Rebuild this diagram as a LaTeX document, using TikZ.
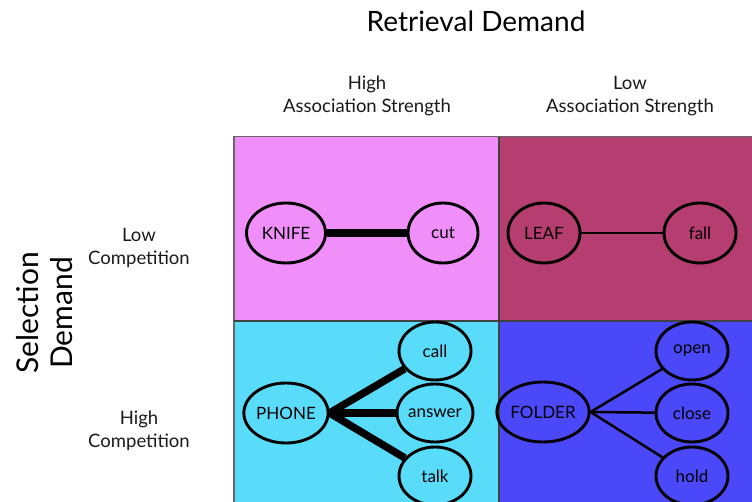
\documentclass[tikz,border=0pt]{standalone}
\usepackage{fontspec}
\setmainfont{Lato}
\usepackage{tikz}
\usetikzlibrary{shapes.geometric, positioning}
\definecolor{cellpink}{RGB}{240,142,250}
\definecolor{cellmaroon}{RGB}{181,61,111}
\definecolor{cellcyan}{RGB}{88,220,250}
\definecolor{cellblue}{RGB}{75,72,250}

\begin{document}
\begin{tikzpicture}[
	  x=1pt, y=-1pt,
	  cell_style/.style={
	  	draw=black!75,
	  	line width=2pt
	  },
	  word_style/.style={
	  	ellipse,
	  	draw,
	  	line width=2.9pt,
	  	inner sep=0pt,
	  	minimum width=72pt,
	  	minimum height=60pt,
	  	font=\fontsize{17}{20}\selectfont
	  },
	  head_style/.style={
	  	align=center,
	  	text=black!90,
	  	font=\fontsize{18.5}{23}\selectfont
	  },
	  strong_link/.style={line width=7.5pt},
	  weak_link/.style={line width=2.5pt}]
	\useasboundingbox (0,0) rectangle (752,502);
	% quadrants
	\fill[cellpink] (234,137) rectangle (499,321);
	\fill[cellmaroon] (499,137) rectangle (752,321);
	\fill[cellcyan] (234,321) rectangle (499,502);
	\fill[cellblue] (499,321) rectangle (752,502);
	\draw[black!60, line width=1.6pt] (234,502) -- (234,136.5) -- (752,136.5);
	\draw[cell_style] (499,137) -- (499,502);
	\draw[cell_style] (234,321) -- (752,321);
	% headings
	\node[font=\fontsize{28}{32}\selectfont] (retrieval) at (476,21) {Retrieval Demand};
	\node[head_style] (highassoc) at (367,96) {High\\Association Strength};
	\node[head_style] (lowassoc) at (630,96) {Low\\Association Strength};
	\node[head_style] (lowcomp) at (139,248) {Low\\Competition};
	\node[head_style] (highcomp) at (139,431) {High\\Competition};
	\node[align=center, rotate=90, font=\fontsize{30}{34}\selectfont] (selection) at (45,313) {Selection\\Demand};
	% high association, low competition
	\node[word_style, minimum width=79pt] (knife) at (286,233) {KNIFE};
	\node[word_style, minimum width=70pt] (cut) at (443,233) {cut};
	\draw[strong_link] (knife) -- (cut);
	% low association, low competition
	\node[word_style] (leaf) at (544,233) {LEAF};
	\node[word_style] (fall) at (700,233) {fall};
	\draw[weak_link] (leaf) -- (fall);
	% high association, high competition
	\node[word_style, minimum width=81pt] (phone) at (286,413) {PHONE};
	\node[word_style, minimum height=58pt] (call) at (435,351) {call};
	\node[word_style, minimum height=58pt] (answer) at (435,413) {answer};
	\node[word_style, minimum height=58pt] (talk) at (435,476) {talk};
	\draw[strong_link] (phone.east) -- (call);
	\draw[strong_link] (phone.east) -- (answer);
	\draw[strong_link] (phone.east) -- (talk);
	% low association, high competition
	\node[word_style, minimum width=83pt] (folder) at (543,412) {FOLDER};
	\node[word_style, minimum height=58pt] (open) at (692,351) {open};
	\node[word_style, minimum height=58pt] (close) at (692,413) {close};
	\node[word_style, minimum height=58pt] (hold) at (692,476) {hold};
	\draw[weak_link] (folder.east) -- (open);
	\draw[weak_link] (folder.east) -- (close);
	\draw[weak_link] (folder.east) -- (hold);
\end{tikzpicture}
\end{document}
